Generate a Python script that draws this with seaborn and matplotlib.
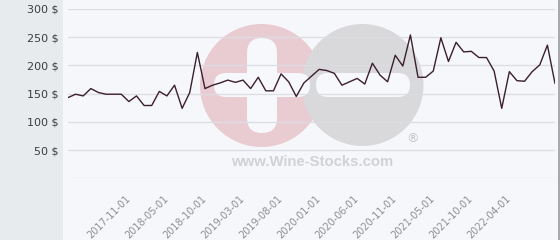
import numpy as np
import pandas as pd
import matplotlib
matplotlib.use("Agg")
import matplotlib.pyplot as plt
from matplotlib.patches import Rectangle, Circle, FancyBboxPatch
import seaborn as sns

# ---- data ----
prices = [143, 149, 146, 159, 152, 149, 149, 149, 136, 146, 129, 129, 154, 146, 165,
          124, 152, 223, 159, 165, 169, 174, 170, 174, 159, 179, 155, 155, 185, 171,
          145, 169, 181, 193, 191, 186, 165, 171, 177, 167, 204, 183, 171, 218, 199,
          254, 179, 179, 190, 249, 207, 241, 224, 225, 214, 214, 190, 124, 189, 173,
          172, 189, 201, 236, 168]
x_tick_labels = ["2017-11-01", "2018-05-01", "2018-10-01", "2019-03-01", "2019-08-01",
                 "2020-01-01", "2020-06-01", "2020-11-01", "2021-05-01", "2021-10-01",
                 "2022-04-01"]
y_ticks = [0, 50, 100, 150, 200, 250, 300]
y_tick_labels = ["", "50 $", "100 $", "150 $", "200 $", "250 $", "300 $"]
first_label_index = 8
label_step = 5

df = pd.DataFrame({"idx": np.arange(len(prices)), "price": prices})

sns.set_style("white")
plt.rcParams["font.family"] = ["DejaVu Sans"]

W, H = 560, 240
fig = plt.figure(figsize=(W / 100, H / 100), dpi=100)
fig.patch.set_facecolor("#f6f7fa")

# background / watermark layer in pixel units
bg = fig.add_axes([0, 0, 1, 1], zorder=-1)
bg.set_xlim(0, W)
bg.set_ylim(H, 0)
bg.axis("off")
panel_bg = "#f6f7fa"
bg.add_patch(Rectangle((0, 0), 63, H, color="#e8ebee", lw=0))
bg.add_patch(Rectangle((557.5, 0), 2, H, color="#a9a9ac", lw=0))
bg.add_patch(Circle((261.5, 85.5), 61.5, color="#e9cbd2", lw=0))
bg.add_patch(Circle((362.5, 85), 61, color="#d9d9db", lw=0))

def pill(x0, y0, x1, y1):
    r = min(x1 - x0, y1 - y0) / 2
    bg.add_patch(FancyBboxPatch((x0 + r, y0 + r), (x1 - x0) - 2 * r, (y1 - y0) - 2 * r,
                                boxstyle=f"round,pad={r}", color="#f7f8fb", lw=0))

pill(214, 73, 310, 97)
pill(247, 38, 277, 133)
pill(316, 73, 410, 97)
bg.text(413, 139, "®", ha="center", va="center", fontsize=9, color="#c4c4c6")
bg.text(312, 162, "www.Wine-Stocks.com", ha="center", va="center",
        fontsize=10.7, fontweight="bold", family="Liberation Sans", color="#d2d2d4")

ax = fig.add_axes([68 / W, 1 - 178.3 / H, (555 - 68) / W, (178.3 - 9) / H])
ax.set_facecolor("none")

sns.lineplot(data=df, x="idx", y="price", ax=ax, color="#3a1f2c", linewidth=1.0)

ax.set_xlim(0, len(prices) - 1)
ax.set_ylim(0, 300)
ax.set_yticks(y_ticks)
ax.set_yticklabels(y_tick_labels)
tick_pos = [first_label_index + label_step * i for i in range(len(x_tick_labels))]
ax.set_xticks(tick_pos)
ax.set_xticklabels(x_tick_labels, rotation=45, ha="right", va="center",
                   rotation_mode="anchor")
ax.tick_params(axis="y", length=0, pad=6.5, labelsize=8, labelcolor="#3c3c3c")
ax.tick_params(axis="x", length=0, pad=13.5, labelsize=7, labelcolor="#8e8e8e")
ax.grid(axis="y", color="#dcdde2", linewidth=0.9)
ax.grid(axis="x", visible=False)
for s in ax.spines.values():
    s.set_visible(False)
ax.set_xlabel("")
ax.set_ylabel("")
ax.set_axisbelow(True)

fig.savefig("out.png", dpi=100, facecolor=fig.get_facecolor())
